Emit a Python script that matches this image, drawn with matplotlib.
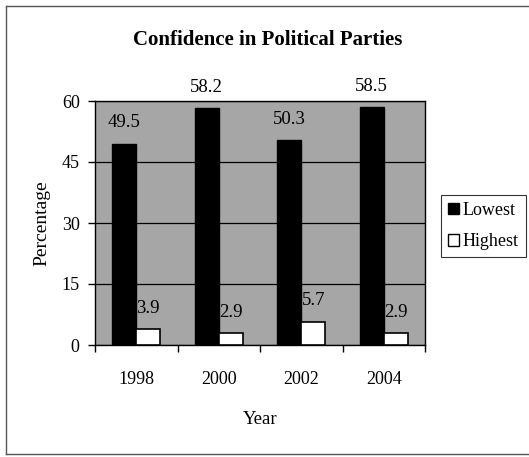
import matplotlib
matplotlib.use("Agg")
import matplotlib.pyplot as plt
from matplotlib.patches import Patch
from matplotlib.lines import Line2D
import numpy as np

plt.rcParams['font.family'] = ['Liberation Serif', 'DejaVu Serif']

years = ["1998", "2000", "2002", "2004"]
lowest = [49.5, 58.2, 50.3, 58.5]
highest = [3.9, 2.9, 5.7, 2.9]
y_ticks = [0, 15, 30, 45, 60]

W, H = 529, 457
fig = plt.figure(figsize=(W / 100, H / 100), dpi=100)
fig.patch.set_facecolor("white")

ax = fig.add_axes([95 / W, 1 - 345 / H, 330 / W, 244 / H])
ax.set_facecolor("#a6a6a6")

x = np.arange(len(years))
bw = 0.29
b1 = ax.bar(x - bw / 2, lowest, bw, color="black", edgecolor="black", linewidth=1, zorder=3)
b2 = ax.bar(x + bw / 2, highest, bw, color="white", edgecolor="black", linewidth=1.2, zorder=3)

# labels sit a fixed distance above the bar tops, excel style
for bars, vals in ((b1, lowest), (b2, highest)):
    for r, v in zip(bars, vals):
        ax.annotate(f"{v}", (r.get_x() + r.get_width() / 2, v),
                    xytext=(0, 15), textcoords="offset points",
                    ha="center", va="center", fontsize=13.5,
                    annotation_clip=False, zorder=4)

ax.set_xlim(-0.5, len(years) - 0.5)
ax.set_ylim(0, 60)
ax.set_yticks(y_ticks)
ax.yaxis.grid(True, color="black", linewidth=0.9)
ax.set_axisbelow(True)

ax.set_xticks(x)
ax.set_xticklabels(years)
ax.set_xticks(np.arange(len(years) + 1) - 0.5, minor=True)
ax.tick_params(axis="x", which="major", length=0, pad=19, labelsize=13)
ax.tick_params(axis="x", which="minor", length=5, width=1, direction="out")
ax.tick_params(axis="y", length=5, width=1, direction="out", pad=6, labelsize=13)

for s in ax.spines.values():
    s.set_color("black")
    s.set_linewidth(1)

ax.set_ylabel("Percentage", fontsize=14, labelpad=8)
ax.set_xlabel("Year", fontsize=13.5, labelpad=16)

fig.text(268 / W, 1 - 40 / H, "Confidence in Political Parties",
         ha="center", va="center", fontsize=15, fontweight="bold")

handles = [Patch(facecolor="black", edgecolor="black"),
           Patch(facecolor="white", edgecolor="black")]
leg = fig.legend(handles, ["Lowest", "Highest"], loc="center left",
                 bbox_to_anchor=(441 / W, 1 - 226 / H), bbox_transform=fig.transFigure,
                 fontsize=13, frameon=True, fancybox=False, handlelength=0.6,
                 handleheight=0.6, handletextpad=0.2, labelspacing=0.8,
                 borderpad=0.4, borderaxespad=0)
leg.get_frame().set_edgecolor("black")
leg.get_frame().set_linewidth(0.8)

# outer chart border (right edge falls outside the picture)
for xs, ys in (([6, 6], [6, 454]), ([6, 529], [6, 6]), ([6, 529], [454, 454])):
    fig.add_artist(Line2D([v / W for v in xs], [1 - v / H for v in ys],
                          transform=fig.transFigure, color="#555555", linewidth=1))

fig.savefig("out.png", dpi=100)
